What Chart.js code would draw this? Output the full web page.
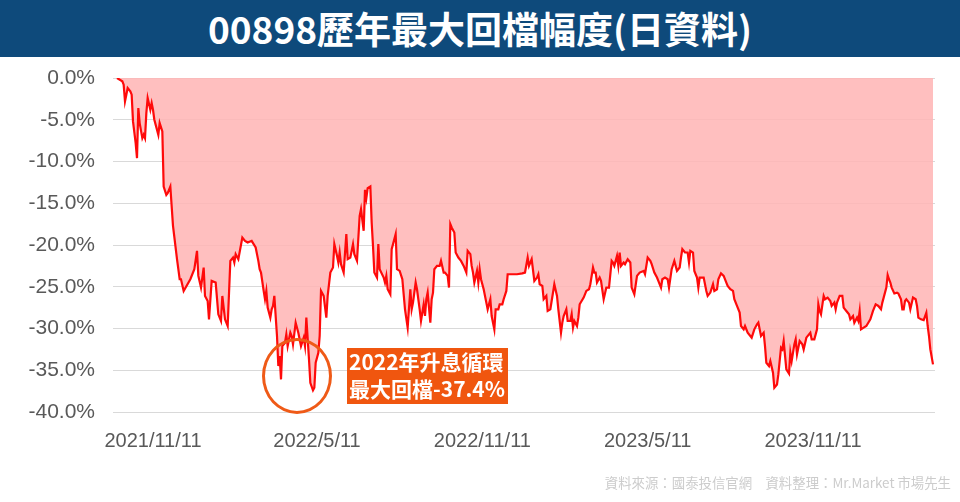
<!DOCTYPE html>
<html lang="zh-Hant">
<head>
<meta charset="utf-8">
<title>00898歷年最大回檔幅度</title>
<script src="https://cdn.jsdelivr.net/npm/chart.js@4.4.0/dist/chart.umd.min.js"></script>
<style>
  html, body { margin: 0; padding: 0; background: #fff; }
  #wrap { position: relative; width: 960px; height: 502px; overflow: hidden; }
  #chart-box { position: absolute; left: 0; top: 0; width: 960px; height: 502px; }
  .titulo {
    position: absolute; left: 0; top: 0; width: 960px; height: 57px;
    background: #0e4a7b; color: #fff; text-align: center;
    font: bold 37px "Noto Sans CJK TC", sans-serif; line-height: 57px; z-index: 2;
  }
  .circulo {
    position: absolute; left: 262px; top: 338px; width: 70px; height: 76px;
    border: 3px solid #ef5a17; border-radius: 50%; box-sizing: border-box; z-index: 2;
  }
  .nota {
    position: absolute; left: 347px; top: 348px; width: 161px; height: 56px;
    background: #f0560f; color: #fff; z-index: 2; box-sizing: border-box; padding: 0 0 0 2px;
    font: bold 21px "Noto Sans CJK TC", sans-serif; line-height: 27px; white-space: nowrap;
  }
  .fonte {
    position: absolute; right: 9px; top: 472px; z-index: 2; color: #cccccc;
    font: 13.4px "Noto Sans CJK TC", sans-serif; white-space: pre;
  }
</style>
</head>
<body>
<div id="wrap">
  <div class="titulo">00898歷年最大回檔幅度(日資料)</div>
  <div id="chart-box"><canvas id="grafico"></canvas></div>
  <div class="circulo"></div>
  <div class="nota">2022年升息循環<br>最大回檔-37.4%</div>
  <div class="fonte">資料來源：國泰投信官網　資料整理：Mr.Market 市場先生</div>
</div>
<script>
// Dados (índice de dia útil desde o início + drawdown em %)
const dias = [
  0, 4, 5, 6, 7, 8, 10, 11, 12, 14, 15, 16, 17, 19, 20, 21, 22, 23, 25, 26, 27, 28, 31, 32, 34, 35, 37, 38, 40, 42,
  45, 47, 48, 50, 55, 58, 60, 61, 63, 65, 66, 68, 69, 71, 74, 76, 78, 79, 81, 83, 85, 87, 88, 89, 91, 94, 96, 98, 101, 104,
  106, 107, 108, 110, 111, 112, 113, 115, 116, 117, 118, 120, 121, 122, 123, 124, 126, 127, 128, 130, 131, 132, 134, 136, 138, 140, 141, 142, 144, 145,
  147, 148, 149, 151, 152, 153, 155, 157, 158, 160, 162, 163, 165, 166, 167, 168, 170, 172, 173, 175, 177, 178, 180, 182, 183, 185, 186, 187, 188, 190,
  191, 192, 193, 195, 196, 197, 200, 201, 202, 203, 205, 206, 209, 210, 212, 214, 216, 218, 220, 221, 222, 224, 225, 227, 228, 230, 231, 232, 233, 235,
  236, 237, 238, 240, 242, 243, 245, 246, 248, 249, 250, 251, 253, 254, 256, 258, 260, 262, 263, 265, 266, 267, 268, 270, 271, 272, 273, 275, 277, 278,
  280, 281, 283, 284, 286, 287, 289, 290, 292, 293, 296, 300, 304, 306, 308, 309, 311, 313, 315, 316, 317, 319, 320, 322, 323, 325, 328, 330, 331, 333,
  334, 335, 337, 338, 340, 341, 342, 343, 345, 346, 347, 350, 352, 354, 355, 357, 358, 359, 360, 362, 363, 365, 367, 369, 371, 372, 373, 375, 376, 377,
  378, 380, 381, 383, 385, 386, 388, 390, 392, 395, 396, 398, 400, 401, 403, 405, 406, 408, 409, 411, 413, 414, 416, 418, 420, 422, 423, 424, 426, 428,
  429, 430, 432, 433, 435, 436, 437, 440, 442, 443, 445, 447, 448, 450, 451, 453, 455, 457, 458, 460, 462, 463, 465, 467, 468, 470, 471, 473, 476, 478,
  480, 481, 483, 485, 486, 487, 489, 490, 492, 493, 495, 496, 498, 499, 500, 502, 504, 505, 506, 508, 509, 510, 512, 514, 515, 517, 519, 520, 521, 523,
  525, 526, 527, 528, 530, 531, 533, 535, 536, 538, 539, 540, 542, 544, 545, 547, 549, 550, 552, 553, 555, 556, 557, 558, 560, 562, 565, 567, 569, 571,
  573, 574, 575, 577, 578, 579, 580, 581, 583, 585, 586, 588, 589, 590, 591, 592, 594, 595, 597, 599, 600, 601, 603, 605, 607, 608, 609, 610, 612
];
const drawdown = [
  0, -0.4, -0.8, -2.8, -2.0, -1.2, -1.6, -2.0, -5.2, -7.8, -9.6, -3.6, -5.4, -7.2, -6.8, -7.2, -4.2, -2.4, -3.8, -3.0, -3.8, -5.0, -6.8, -5.4, -6.4, -13.0, -14.0, -13.8, -13.0, -17.7,
  -21.7, -24.1, -24.1, -25.5, -24.1, -22.9, -20.7, -23.7, -25.1, -22.7, -26.1, -26.7, -28.9, -24.3, -24.5, -28.3, -29.1, -26.1, -28.9, -29.7, -21.9, -21.5, -22.1, -21.1, -21.7, -19.1, -19.5, -19.7, -19.5, -20.3,
  -21.9, -22.9, -23.3, -25.5, -26.5, -25.5, -27.5, -28.7, -27.7, -27.3, -26.1, -30.9, -34.5, -33.3, -36.1, -32.1, -31.7, -30.7, -32.1, -30.5, -30.9, -31.9, -29.3, -30.5, -32.1, -31.1, -32.1, -28.7, -33.7, -36.5,
  -37.4, -37.1, -34.1, -32.9, -30.9, -25.5, -26.1, -28.7, -26.1, -23.3, -22.7, -19.9, -21.3, -22.1, -20.9, -22.3, -23.3, -18.7, -21.7, -21.5, -19.9, -21.1, -21.9, -16.5, -15.7, -18.3, -13.4, -14.4, -13.2, -13.0,
  -17.3, -20.1, -23.3, -23.9, -19.9, -22.9, -23.9, -24.5, -23.7, -25.3, -25.9, -20.5, -18.7, -22.9, -23.1, -24.1, -27.7, -29.9, -25.3, -27.7, -26.9, -24.5, -25.3, -27.7, -29.1, -27.1, -28.5, -26.5, -25.7, -29.3,
  -26.5, -25.7, -22.9, -22.5, -22.5, -21.9, -23.3, -23.3, -23.7, -25.1, -17.5, -17.9, -18.5, -20.9, -21.5, -21.9, -22.5, -23.3, -20.7, -21.1, -22.5, -23.3, -24.5, -23.1, -24.5, -22.9, -24.1, -25.3, -26.9, -27.7,
  -26.5, -28.5, -30.1, -27.7, -27.7, -27.1, -27.1, -26.5, -25.5, -23.5, -23.5, -23.5, -23.4, -23.3, -21.5, -22.5, -21.7, -24.3, -23.9, -23.5, -24.7, -24.9, -26.5, -26.1, -27.9, -27.7, -24.7, -26.1, -27.7, -30.5,
  -29.3, -28.5, -27.7, -29.1, -29.1, -28.3, -29.9, -29.1, -29.7, -28.7, -27.1, -26.3, -25.5, -25.3, -24.7, -22.7, -23.3, -23.3, -24.5, -23.9, -24.3, -26.5, -25.1, -25.1, -21.9, -22.1, -22.5, -21.3, -22.5, -20.9,
  -22.5, -22.1, -22.3, -21.7, -22.1, -25.1, -25.9, -23.7, -23.3, -23.1, -23.5, -21.5, -21.9, -22.3, -23.3, -23.9, -24.3, -25.1, -24.1, -23.9, -24.1, -25.1, -22.9, -21.9, -23.1, -22.7, -21.5, -20.5, -20.9, -20.9,
  -22.1, -20.7, -20.9, -23.1, -23.9, -25.1, -23.9, -23.9, -25.5, -26.1, -25.7, -24.7, -25.5, -25.3, -24.1, -23.4, -23.7, -24.5, -24.9, -25.3, -25.5, -26.5, -27.3, -28.1, -29.7, -30.1, -29.7, -30.5, -31.1, -30.1,
  -29.5, -29.3, -30.9, -30.5, -32.1, -34.1, -34.5, -33.9, -35.3, -37.1, -36.7, -35.5, -32.3, -32.5, -31.5, -34.9, -35.4, -32.9, -33.9, -31.9, -31.3, -33.1, -31.5, -31.9, -32.5, -31.1, -30.7, -30.5, -31.3, -31.3,
  -30.1, -27.1, -27.9, -28.3, -26.1, -26.5, -26.3, -26.7, -27.3, -26.9, -27.7, -26.9, -26.1, -26.1, -27.5, -27.9, -28.3, -28.9, -28.5, -29.3, -28.7, -29.1, -27.9, -30.1, -29.9, -29.7, -28.9, -27.9, -27.1, -27.3,
  -27.7, -26.9, -26.3, -25.1, -23.6, -24.1, -24.5, -25.1, -25.8, -25.7, -25.8, -26.5, -27.7, -27.7, -26.7, -26.5, -26.9, -27.7, -26.3, -26.5, -27.3, -28.7, -28.9, -29.0, -28.1, -29.7, -30.9, -32.5, -34.3
];
// Rótulos do eixo X
const tickDias = [27, 150, 274, 398, 522];
const tickDatas = ['2021/11/11', '2022/5/11', '2022/11/11', '2023/5/11', '2023/11/11'];

const pontos = dias.map((d, i) => ({ x: d, y: drawdown[i] }));
const fonteX = { family: '"Liberation Sans", Arial, sans-serif', size: 20 };
const fonteY = { family: '"Liberation Sans", Arial, sans-serif', size: 21 };

new Chart(document.getElementById('grafico'), {
  type: 'line',
  data: {
    datasets: [{
      data: pontos,
      borderColor: '#ff0a0a',
      borderWidth: 2.2,
      backgroundColor: 'rgba(255,180,180,0.85)',
      fill: 'origin',
      pointRadius: 0,
      tension: 0
    }]
  },
  options: {
    responsive: true,
    maintainAspectRatio: false,
    animation: false,
    layout: { padding: { top: 78, right: 25, left: 0, bottom: 0 } },
    plugins: { legend: { display: false }, tooltip: { enabled: false } },
    scales: {
      x: {
        type: 'linear', min: -3, max: 613.5,
        grid: { display: false, drawTicks: false, tickLength: 0 },
        border: { display: false },
        afterBuildTicks: s => { s.ticks = tickDias.map(v => ({ value: v })); },
        afterFit: s => { s.height = 90; },
        ticks: {
          autoSkip: false, maxRotation: 0, padding: 17, color: '#595959', font: fonteX,
          callback: v => tickDatas[tickDias.indexOf(v)] ?? ''
        }
      },
      y: {
        min: -40, max: 0,
        grid: { color: '#d9d9d9', lineWidth: 1, drawTicks: false, tickLength: 0 },
        border: { display: false },
        afterFit: s => { s.width = 113; },
        ticks: {
          stepSize: 5, padding: 18, color: '#595959', font: fonteY,
          callback: v => v.toFixed(1) + '%'
        }
      }
    }
  }
});
</script>
</body>
</html>
